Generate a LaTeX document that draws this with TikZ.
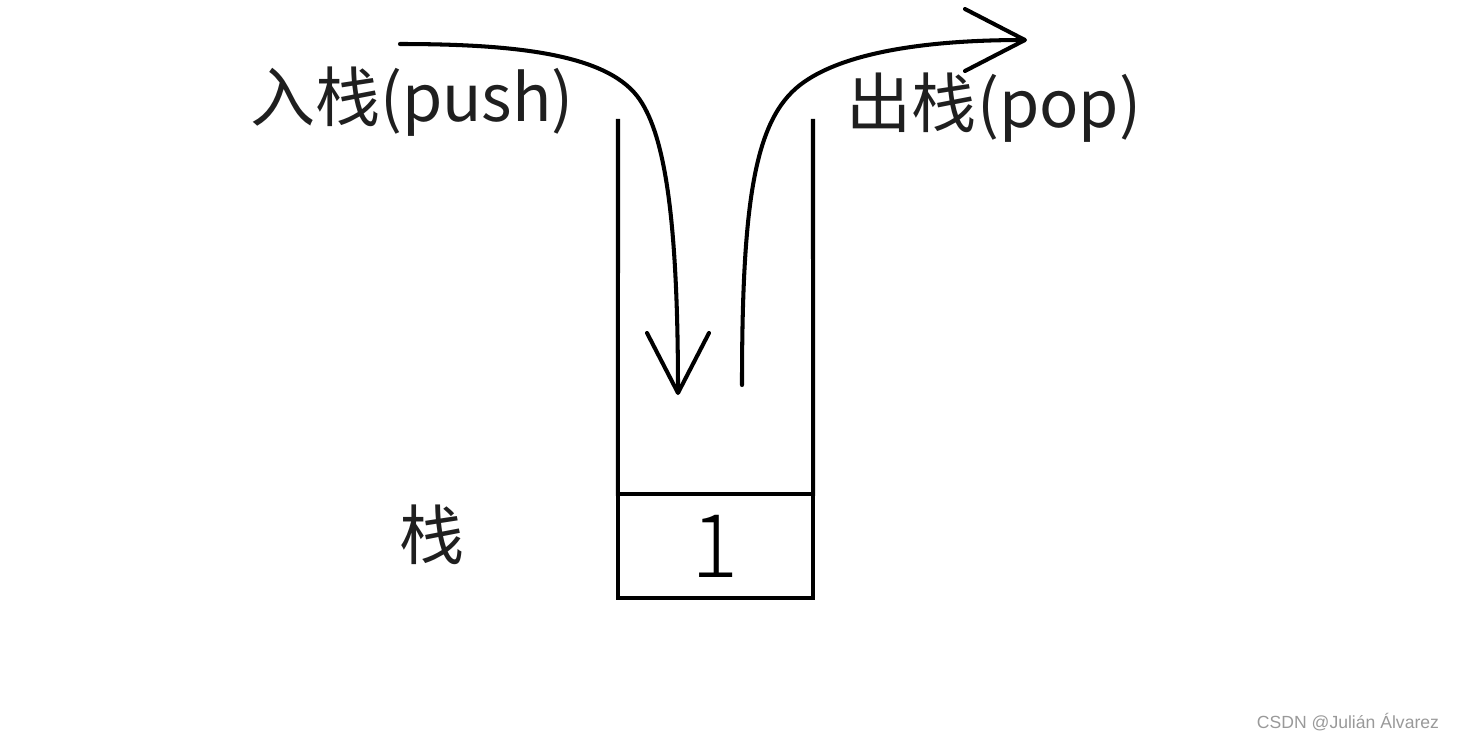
\documentclass[tikz,border=0pt]{standalone}
\usepackage{fontspec}
\usepackage{xcolor}
\usepackage{tikz}
\usetikzlibrary{arrows.meta,positioning}
\newfontfamily\cjk{Noto Sans CJK SC}
\newfontfamily\markfont{Liberation Sans}

\begin{document}
\begin{tikzpicture}[
    x=0.01cm,y=-0.01cm,
    wall/.style={line width=1.15pt,line cap=rect},
    slotbox/.style={draw,line width=1.15pt,minimum width=1.95cm,minimum height=1.04cm,inner sep=0pt,outer sep=0pt,font=\cjk\fontsize{25}{25}\selectfont\addfontfeature{FakeBold=0}},
    flow/.style={line width=1.15pt,line cap=round,-{Straight Barb[length=0.6cm,width=0.62cm,round]}},
    word/.style={inner sep=0pt,font=\cjk\fontsize{18.5}{18.5}\selectfont,text=black!88}
  ]
    \useasboundingbox (0,0) rectangle (1459,739);
    \node[slotbox] (slot) at (715.5,546) {\fontspec{Noto Sans CJK SC Light}1};
    \coordinate (lt) at (618,121);
    \coordinate (rt) at (813,121);
    \draw[wall] (slot.north west) -- (lt);
    \draw[wall] (slot.north east) -- (rt);
    \node[word] (push) at (412,102) {入栈(push)};
    \node[word] (pop) at (994,108) {出栈(pop)};
    \node[word] (stk) at (432,535) {栈};
    \node[inner sep=0pt,font=\markfont\fontsize{5}{5}\selectfont,text=black!40] (mark) at (1348,722) {CSDN @Julián Álvarez};
    \coordinate (pushin) at (400,44);
    \coordinate (pushend) at (678,395);
    \coordinate (popout) at (742,385);
    \coordinate (popend) at (1027,40);
    \draw[flow] (pushin) .. controls (520,44) and (610,55) .. (640,100)
      .. controls (665,137) and (678,220) .. (pushend);
    \draw[flow] (popout) .. controls (742,200) and (755,120) .. (800,85)
      .. controls (840,54) and (920,40) .. (popend);
  \end{tikzpicture}
\end{document}
